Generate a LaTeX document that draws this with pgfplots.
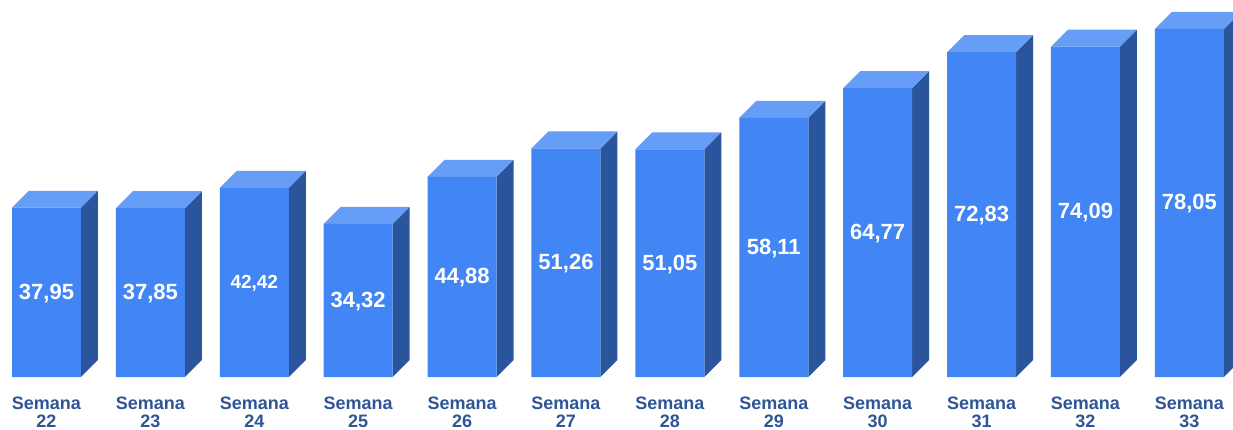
\documentclass[border=0pt]{standalone}
\usepackage{fontspec}
\setmainfont{Liberation Sans}
\usepackage{pgfplots}
\usepackage{pgfplotstable}
\pgfplotsset{compat=1.18}

\definecolor{barfront}{HTML}{4285F4}
\definecolor{bartop}{HTML}{669DF6}
\definecolor{barside}{HTML}{2A549B}
\definecolor{labelblue}{HTML}{2F5597}

\pgfplotstableread{
x v
0 37.95
1 37.85
2 42.42
3 34.32
4 44.88
5 51.26
6 51.05
7 58.11
8 64.77
9 72.83
10 74.09
11 78.05
}\weeks

% half bar width and 3d depth, in axis units
\def\hw{0.332}
\def\dx{0.1636}
\def\dy{3.81}

\begin{document}
\begin{tikzpicture}
\useasboundingbox (0,-52pt) rectangle (1233pt,377pt);
\begin{axis}[
    at={(0,0)}, anchor=south west,
    scale only axis,
    width=1233pt, height=377pt,
    xmin=-0.4475, xmax=11.42,
    ymin=0, ymax=84.53,
    axis x line*=bottom,
    axis y line=none,
    axis line style={draw=none},
    major tick length=0pt,
    xtick={0,...,11},
    xticklabels={{Semana\\22},{Semana\\23},{Semana\\24},{Semana\\25},{Semana\\26},{Semana\\27},{Semana\\28},{Semana\\29},{Semana\\30},{Semana\\31},{Semana\\32},{Semana\\33}},
    xticklabel style={align=center, text=labelblue, inner sep=0pt, outer sep=0pt, yshift=-19.5pt,
        text depth=0pt,
        font=\fontsize{18}{18}\selectfont\bfseries},
    /pgf/number format/.cd, fixed, fixed zerofill, precision=2, use comma, assume math mode=true,
]

% side and top faces
\pgfplotsforeachungrouped \i in {0,...,11}{
    \pgfplotstablegetelem{\i}{v}\of\weeks
    \let\val\pgfplotsretval
    \pgfmathsetmacro\xl{\i-\hw}
    \pgfmathsetmacro\xr{\i+\hw}
    \pgfmathsetmacro\xlb{\xl+\dx}
    \pgfmathsetmacro\xrb{\xr+\dx}
    \pgfmathsetmacro\vb{\val+\dy}
    \edef\faces{
        \noexpand\addplot[draw=none, fill=barside, forget plot] coordinates {
            (\xr,0) (\xrb,\dy) (\xrb,\vb) (\xr,\val)} -- cycle;
        \noexpand\addplot[draw=none, fill=bartop, forget plot] coordinates {
            (\xl,\val) (\xlb,\vb) (\xrb,\vb) (\xr,\val)} -- cycle;
    }
    \faces
}

% front faces
\addplot[ybar, bar width=0.664, bar shift=0pt, draw=none, fill=barfront, forget plot]
    table[x=x, y=v] {\weeks};

% value labels in the middle of each bar
\addplot[only marks, mark=none, forget plot, point meta=explicit,
    skip coords between index={2}{3},
    nodes near coords,
    every node near coord/.append style={anchor=center, text=white, inner sep=0pt, yshift=-1pt,
        font=\fontsize{22}{22}\selectfont\bfseries}]
    table[x=x, y expr=\thisrow{v}/2, meta=v] {\weeks};
\addplot[only marks, mark=none, forget plot, point meta=explicit,
    restrict x to domain=2:2,
    nodes near coords,
    every node near coord/.append style={anchor=center, text=white, inner sep=0pt, yshift=-1pt,
        font=\fontsize{19}{19}\selectfont\bfseries}]
    table[x=x, y expr=\thisrow{v}/2, meta=v] {\weeks};
\end{axis}
\end{tikzpicture}
\end{document}
